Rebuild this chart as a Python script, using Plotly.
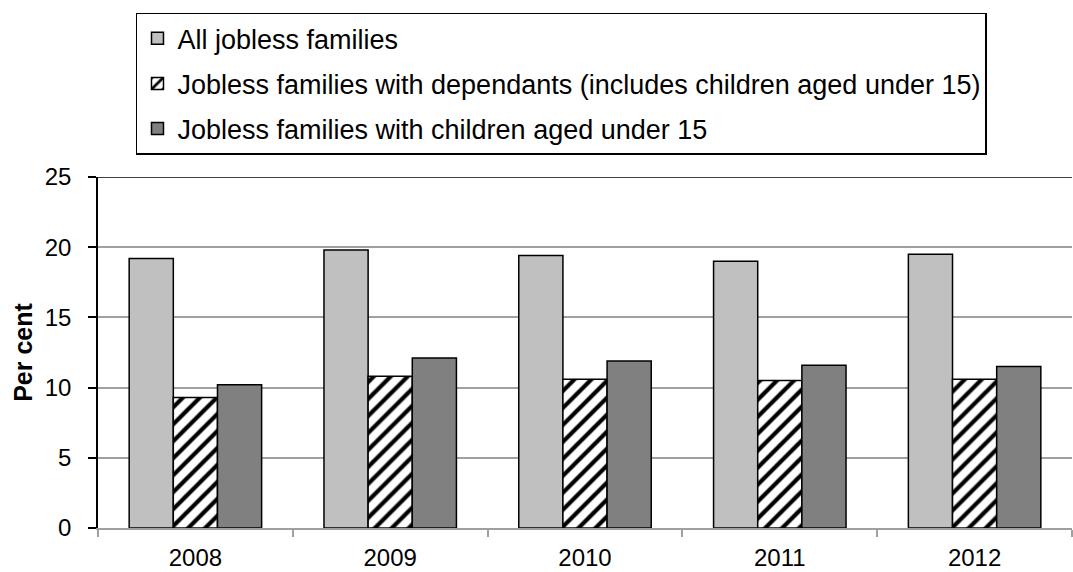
import plotly.graph_objects as go

years = ["2008", "2009", "2010", "2011", "2012"]
all_jobless = [19.2, 19.8, 19.4, 19.0, 19.5]
with_dependants = [9.3, 10.8, 10.6, 10.5, 10.6]
with_children = [10.2, 12.1, 11.9, 11.6, 11.5]
series_names = [
    "All jobless families",
    "Jobless families with dependants (includes children aged under 15)",
    "Jobless families with children aged under 15",
]

font_family = "Arial, Liberation Sans, sans-serif"

fig = go.Figure()
fig.add_trace(go.Bar(
    x=years, y=all_jobless, name=series_names[0], legendgroup="a",
    marker=dict(color="#c0c0c0", line=dict(color="black", width=1.5)),
))
fig.add_trace(go.Bar(
    x=years, y=with_dependants, name=series_names[1], legendgroup="b",
    marker=dict(color="white", line=dict(color="black", width=1.5),
                pattern=dict(shape="/", fgcolor="black", bgcolor="white",
                             size=12, solidity=0.35, fillmode="replace")),
))
fig.add_trace(go.Bar(
    x=years, y=with_children, name=series_names[2], legendgroup="c",
    marker=dict(color="#808080", line=dict(color="black", width=1.5)),
))

fig.update_layout(
    width=1073, height=572,
    margin=dict(l=98, r=1, t=177, b=42),
    paper_bgcolor="white", plot_bgcolor="white",
    barmode="group", bargap=0.32, bargroupgap=0,
    font=dict(family=font_family, size=24, color="black"),
    legend=dict(
        x=0.039, y=1.468, xanchor="left", yanchor="top",
        bordercolor="black", borderwidth=1.5, bgcolor="white",
        font=dict(size=27), tracegroupgap=7, itemwidth=30,
    ),
    showlegend=True,
)
fig.update_yaxes(
    range=[0, 25], tickvals=[0, 5, 10, 15, 20, 25],
    showgrid=True, gridcolor="#a0a0a0", gridwidth=1.5,
    showline=True, linecolor="black", linewidth=1.5,
    ticks="outside", ticklen=8, tickcolor="black", tickwidth=1.5,
    ticklabelstandoff=12,
    title=dict(text="<b>Per cent</b>", font=dict(size=25), standoff=5),
    zeroline=False, tickfont=dict(size=24),
)
fig.update_xaxes(
    showline=True, linecolor="#a0a0a0", linewidth=1.5,
    ticks="outside", ticklen=7, tickcolor="#a0a0a0", tickwidth=1.5,
    tickson="boundaries", tickfont=dict(size=24), ticklabelstandoff=7,
)
fig.add_shape(type="line", xref="paper", yref="y", x0=0, x1=1, y0=25, y1=25,
              line=dict(color="black", width=1.5))

fig.write_html("out.html")
